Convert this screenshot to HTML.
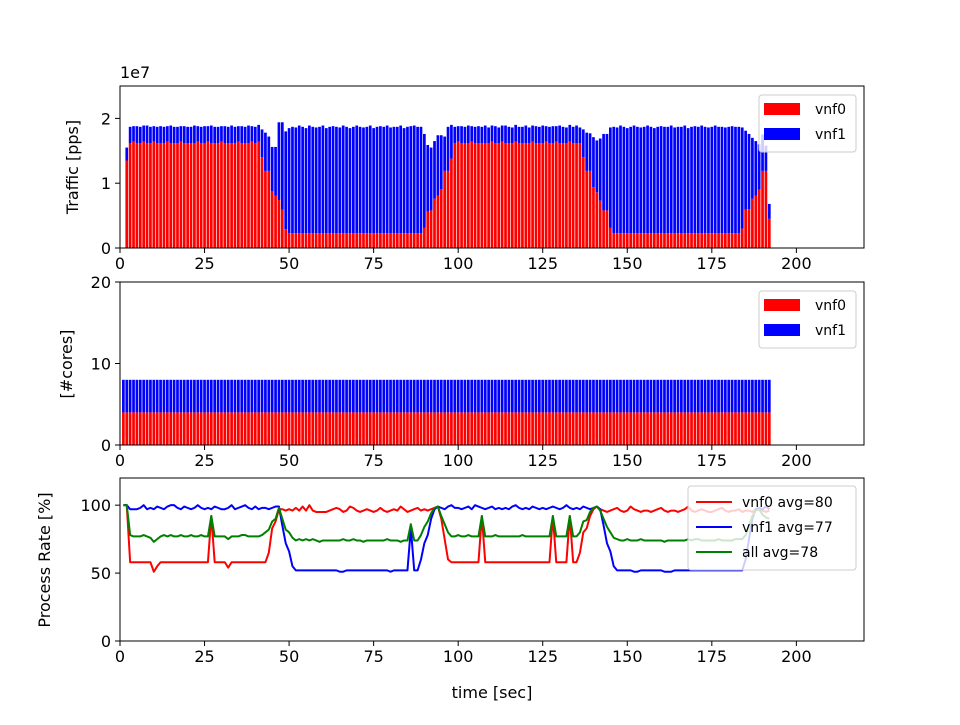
<!DOCTYPE html>
<html><head><meta charset="utf-8"><style>
body{margin:0;background:#fff}
svg text{font-family:"DejaVu Sans","Liberation Sans",sans-serif;fill:#000}
</style></head><body>
<svg id="chart" width="960" height="720" viewBox="0 0 960 720" xmlns="http://www.w3.org/2000/svg"></svg>
<script>
const trafficVnf0=[0,13.5,
16.2,16.4,16.2,16.2,16.4,16.2,16.2,16.4,16.2,16.2,16.2,16.4,16.2,16.2,16.2,16.4,16.2,16.2,16.2,16.2,16.4,16.2,16.2,16.4,16.2,16.2,16.2,16.4,16.2,16.2,16.2,16.2,16.4,16.2,16.2,16.2,16.4,16.2,16.4,
14.0,11.9,11.9,8.8,8.1,7.4,5.9,2.9,
2.3,2.3,2.3,2.3,2.3,2.3,2.3,2.3,2.3,2.3,2.3,2.3,2.3,2.3,2.3,2.3,2.3,2.3,2.3,2.3,2.3,2.3,2.3,2.3,2.3,2.3,2.3,2.3,2.3,2.3,2.3,2.3,2.3,2.3,2.3,2.3,2.3,2.3,2.3,2.3,
3.1,5.6,5.8,7.6,8.1,9.1,11.9,11.9,13.8,
16.2,16.4,16.2,16.2,16.2,16.4,16.2,16.2,16.2,16.2,16.2,16.4,16.2,16.2,16.4,16.2,16.2,16.2,16.4,16.2,16.2,16.2,16.2,16.4,16.2,16.2,16.2,16.4,16.2,16.2,16.4,16.2,16.2,16.2,16.4,16.2,16.2,16.2,
14.0,11.9,11.9,9.4,8.6,7.3,5.8,5.8,3.1,
2.3,2.3,2.3,2.3,2.3,2.3,2.3,2.3,2.3,2.3,2.3,2.3,2.3,2.3,2.3,2.3,2.3,2.3,2.3,2.3,2.3,2.3,2.3,2.3,2.3,2.3,2.3,2.3,2.3,2.3,2.3,2.3,2.3,2.3,2.3,2.3,2.3,2.3,
3.0,5.9,6.0,7.6,8.1,9.0,11.9,11.9,4.5];
const trafficVnf1=[0,2.0,
2.5,2.4,2.6,2.5,2.5,2.7,2.5,2.4,2.5,2.6,2.5,2.4,2.7,2.5,2.5,2.4,2.6,2.5,2.5,2.7,2.4,2.5,2.6,2.4,2.7,2.5,2.5,2.4,2.6,2.5,2.7,2.5,2.4,2.6,2.5,2.7,2.4,2.5,2.6,
4.3,5.9,5.3,6.8,7.5,12.0,13.5,15.1,
16.2,16.4,16.3,16.6,16.4,16.2,16.6,16.4,16.3,16.4,16.6,16.2,16.4,16.5,16.4,16.3,16.6,16.4,16.2,16.4,16.6,16.4,16.3,16.4,16.6,16.2,16.4,16.5,16.4,16.6,16.3,16.4,16.4,16.6,16.2,16.4,16.5,16.6,16.4,16.4,
14.5,10.3,9.7,8.9,9.3,8.3,5.3,6.8,5.2,
2.5,2.4,2.6,2.5,2.7,2.4,2.5,2.6,2.5,2.7,2.4,2.5,2.6,2.4,2.5,2.7,2.5,2.4,2.6,2.5,2.5,2.7,2.4,2.5,2.6,2.5,2.7,2.4,2.5,2.6,2.4,2.7,2.5,2.4,2.6,2.5,2.7,2.4,
4.3,5.9,5.8,7.7,8.0,9.6,11.8,11.8,15.5,
16.4,16.3,16.6,16.4,16.2,16.4,16.6,16.4,16.3,16.4,16.6,16.4,16.2,16.4,16.5,16.4,16.4,16.6,16.3,16.4,16.4,16.6,16.2,16.4,16.5,16.4,16.6,16.4,16.3,16.4,16.6,16.4,16.4,16.3,16.4,16.5,16.4,16.4,
15.6,12.2,11.6,9.4,8.4,7.0,5.6,3.9,2.3];
const coresVnf0=[4,4,4,4,4,4,4,4,4,4,4,4,4,4,4,4,4,4,4,4,4,4,4,4,4,4,4,4,4,4,4,4,4,4,4,4,4,4,4,4,4,4,4,4,4,4,4,4,4,4,4,4,4,4,4,4,4,4,4,4,4,4,4,4,4,4,4,4,4,4,4,4,4,4,4,4,4,4,4,4,4,4,4,4,4,4,4,4,4,4,4,4,4,4,4,4,4,4,4,4,4,4,4,4,4,4,4,4,4,4,4,4,4,4,4,4,4,4,4,4,4,4,4,4,4,4,4,4,4,4,4,4,4,4,4,4,4,4,4,4,4,4,4,4,4,4,4,4,4,4,4,4,4,4,4,4,4,4,4,4,4,4,4,4,4,4,4,4,4,4,4,4,4,4,4,4,4,4,4,4,4,4,4,4,4,4,4,4,4,4,4,4];
const coresVnf1=[4,4,4,4,4,4,4,4,4,4,4,4,4,4,4,4,4,4,4,4,4,4,4,4,4,4,4,4,4,4,4,4,4,4,4,4,4,4,4,4,4,4,4,4,4,4,4,4,4,4,4,4,4,4,4,4,4,4,4,4,4,4,4,4,4,4,4,4,4,4,4,4,4,4,4,4,4,4,4,4,4,4,4,4,4,4,4,4,4,4,4,4,4,4,4,4,4,4,4,4,4,4,4,4,4,4,4,4,4,4,4,4,4,4,4,4,4,4,4,4,4,4,4,4,4,4,4,4,4,4,4,4,4,4,4,4,4,4,4,4,4,4,4,4,4,4,4,4,4,4,4,4,4,4,4,4,4,4,4,4,4,4,4,4,4,4,4,4,4,4,4,4,4,4,4,4,4,4,4,4,4,4,4,4,4,4,4,4,4,4,4,4];
const rateVnf0=[100,100,
58,58,58,58,58,58,58,51,55,58,58,58,58,58,58,58,58,58,58,58,58,58,58,58,92,58,58,58,58,54,58,58,58,58,58,58,58,58,58,58,58,
65,83,88,97,97,
96,97,96,98,96,99,96,100,96,95,95,95,95,96,97,98,97,95,96,99,98,96,95,96,97,96,95,96,98,96,95,96,97,96,99,97,95,96,97,98,96,97,
96,97,98,99,90,75,60,
58,58,58,58,58,58,58,58,58,92,
58,58,58,58,58,58,58,58,58,58,58,58,58,58,58,58,58,58,58,58,
92,58,58,58,58,92,58,58,65,80,83,92,97,99,
97,96,95,96,97,98,96,95,96,99,97,96,95,96,96,95,96,97,98,96,95,96,96,95,96,97,99,96,95,96,97,96,95,95,96,97,98,96,95,96,96,97,95,96,96,95,97,98,96,95,96];
const rateVnf1=[100,100,97,
97,97,98,100,97,98,97,99,98,97,99,100,100,98,97,99,98,97,98,100,98,97,98,97,99,98,97,97,98,100,97,98,99,100,98,97,99,97,98,98,97,98,99,
99,85,72,66,55,52,
52,52,52,52,52,52,52,52,52,52,52,52,51,51,52,52,52,52,52,52,52,52,52,52,52,52,52,51,52,52,52,52,52,
83,52,52,60,72,78,90,97,99,
98,97,99,100,98,98,97,98,99,97,100,99,98,97,98,99,97,98,97,98,97,99,100,98,97,98,97,99,98,97,98,97,98,99,98,97,98,100,98,97,98,97,99,98,97,98,99,
97,85,72,66,55,
52,52,52,52,52,51,51,52,52,52,52,52,52,52,51,51,51,52,52,52,52,52,52,52,52,52,52,52,52,52,52,52,52,52,52,52,52,52,
60,75,90,97,98,97,99,97];
const rateAll=[100,100,78,
77,77,77,78,77,76,73,75,
77,78,77,78,77,77,78,77,77,78,77,77,78,77,77,92,
77,77,77,77,75,77,77,77,78,78,77,77,77,77,78,80,
82,88,90,98,90,82,80,76,
74,75,74,75,74,75,74,73,74,74,74,74,74,74,75,74,74,75,74,74,73,74,74,74,74,74,74,75,74,74,74,73,74,74,
86,74,74,78,84,88,94,98,99,92,86,80,
77,77,78,77,77,78,77,77,77,92,
77,77,77,78,77,77,77,77,77,77,77,78,77,77,77,77,77,77,77,77,
92,77,77,77,77,92,77,77,80,88,89,95,98,99,96,90,84,80,76,
75,74,74,75,74,74,74,75,74,74,74,74,74,74,73,74,74,74,74,74,74,75,74,75,75,74,74,74,74,74,75,74,74,74,74,75,75,75,
78,85,92,96,97,93,91,90];
const xTicks=[0,25,50,75,100,125,150,175,200];
const yTicksTraffic=[0,1,2];
const yTicksCores=[0,10,20];
const yTicksRate=[0,50,100];

const svg=document.getElementById('chart');
const NS='http://www.w3.org/2000/svg';
function mk(tag,attrs,parent){const e=document.createElementNS(NS,tag);for(const k in attrs)e.setAttribute(k,attrs[k]);(parent||svg).appendChild(e);return e;}
const X0=120,X1=864;
function xs(v){return X0+(v/220)*(X1-X0);}
const panels=[{top:86,bot:248,max:25},{top:282,bot:445,max:20},{top:478,bot:641,max:120}];
function ys(p,v){return p.bot-(v/p.max)*(p.bot-p.top);}

function axes(p,ticks,tickScale,name){
  const g=mk('g',{});
  
  
  xTicks.forEach(t=>{
    const x=xs(t);
    mk('line',{x1:x,x2:x,y1:p.bot,y2:p.bot+5,stroke:'#000','stroke-width':1},g);
    const tx=mk('text',{x:x,y:p.bot+21,'text-anchor':'middle','font-size':16},g);
    
    
    tx.textContent=t;
  });
  ticks.forEach(t=>{
    const y=ys(p,t*tickScale);
    mk('line',{x1:X0-5,x2:X0,y1:y,y2:y,stroke:'#000','stroke-width':1},g);
    const tx=mk('text',{x:X0-9,y:y+6,'text-anchor':'end','font-size':16},g);
    
    
    tx.textContent=t;
  });
  return g;
}
function frame(p){mk('rect',{x:X0,y:p.top,width:X1-X0,height:p.bot-p.top,fill:'none',stroke:'#000','stroke-width':1});}

function bars(p,a,b,startT,name){
  const g=mk('g',{});
  
  
  const w=xs(0.8)-xs(0);
  a.forEach((v,i)=>{
    const t=startT+i;
    const x=xs(t)-w/2;
    const r=mk('rect',{x:x,y:ys(p,v),width:w,height:ys(p,0)-ys(p,v),fill:'#ff0000'},g);
    
    
    const r2=mk('rect',{x:x,y:ys(p,v+b[i]),width:w,height:ys(p,v)-ys(p,v+b[i]),fill:'#0000ff'},g);
    
    
  });
}
function barLegend(p,name){
  const g=mk('g',{});
  
  
  const y0=p.top+9;
  mk('rect',{x:759,y:y0,width:97,height:57,rx:3,fill:'#fff','fill-opacity':0.8,stroke:'#ccc'},g);
  [['vnf0','#ff0000'],['vnf1','#0000ff']].forEach((e,i)=>{
    const r=mk('rect',{x:764,y:y0+8+i*25,width:36,height:12,fill:e[1]},g);
    
    
    const t=mk('text',{x:815,y:y0+19+i*25,'font-size':14},g);
    
    
    t.textContent=e[0];
  });
}

const p1=panels[0];
bars(p1,trafficVnf0,trafficVnf1,1,'traffic');
frame(p1);
axes(p1,yTicksTraffic,10,'traffic');
barLegend(p1,'traffic');
let t=mk('text',{x:120,y:78,'font-size':16});


t.textContent='1e7';
t=mk('text',{x:78,y:167,'font-size':16,'text-anchor':'middle',transform:'rotate(-90 78 167)'});


t.textContent='Traffic [pps]';

const p2=panels[1];
bars(p2,coresVnf0,coresVnf1,1,'cores');
frame(p2);
axes(p2,yTicksCores,1,'cores');
barLegend(p2,'cores');
t=mk('text',{x:72,y:364,'font-size':16,'text-anchor':'middle',transform:'rotate(-90 72 364)'});


t.textContent='[#cores]';

const p3=panels[2];
function line(arr,color,name){
  const pts=arr.map((v,i)=>xs(i+1).toFixed(2)+','+ys(p3,v).toFixed(2)).join(' ');
  const l=mk('polyline',{points:pts,fill:'none',stroke:color,'stroke-width':2,'stroke-linejoin':'round'});
  
  
}
line(rateVnf0,'#ff0000','line-vnf0');
line(rateVnf1,'#0000ff','line-vnf1');
line(rateAll,'#008000','line-all');
frame(p3);
axes(p3,yTicksRate,1,'rate');
t=mk('text',{x:50,y:560,'font-size':16,'text-anchor':'middle',transform:'rotate(-90 50 560)'});


t.textContent='Process Rate [%]';
t=mk('text',{x:492,y:698,'font-size':16,'text-anchor':'middle'});


t.textContent='time [sec]';
const lg=mk('g',{});


mk('rect',{x:688,y:486,width:168,height:84,rx:3,fill:'#fff','fill-opacity':0.8,stroke:'#ccc'},lg);
[['vnf0 avg=80','#ff0000'],['vnf1 avg=77','#0000ff'],['all avg=78','#008000']].forEach((e,i)=>{
  const y=502+i*25;
  const l=mk('line',{x1:696,x2:732,y1:y,y2:y,stroke:e[1],'stroke-width':2},lg);
  
  
  const tx=mk('text',{x:742,y:y+5,'font-size':14},lg);
  
  
  tx.textContent=e[0];
});
</script>
</body></html>
